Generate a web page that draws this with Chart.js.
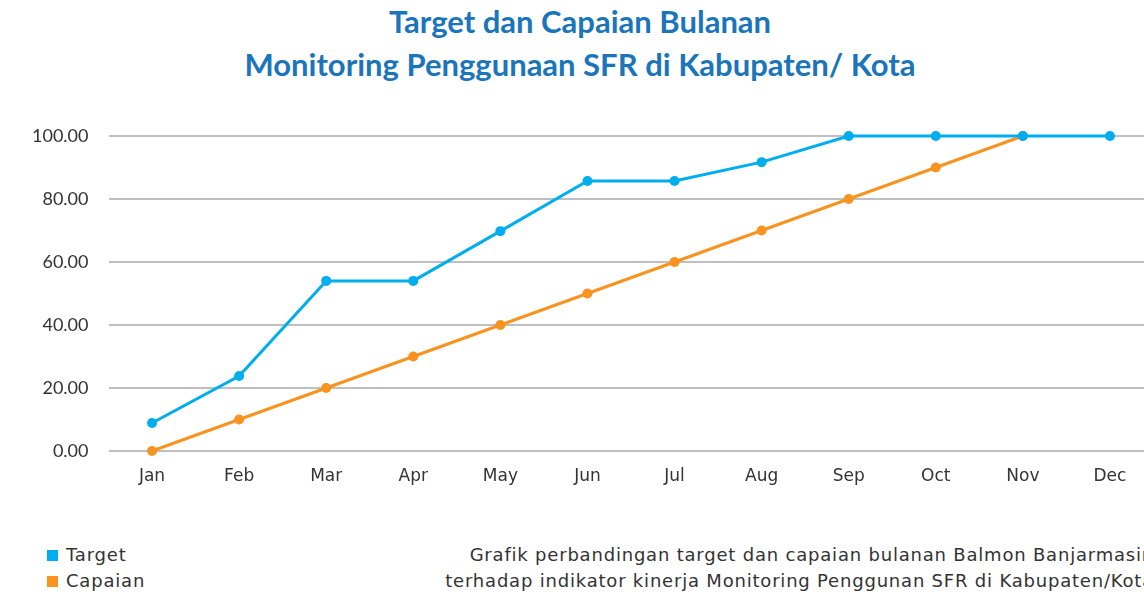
<!DOCTYPE html>
<html>
<head>
<meta charset="utf-8">
<script src="https://cdn.jsdelivr.net/npm/chart.js@4"></script>
<style>
html, body { margin: 0; padding: 0; background: #fff; overflow: hidden; width: 1144px; height: 595px; }
body { position: relative; font-family: "DejaVu Sans", sans-serif; }
#title { position: absolute; left: 0; width: 1160px; top: 0px; text-align: center; color: #1a75bb; font-family: "Lato", sans-serif; font-weight: bold; font-size: 31px; line-height: 43px; }
#wrap { position: absolute; left: 0; top: 0; width: 1160px; height: 500px; }
#legend { position: absolute; left: 47px; top: 542px; font-size: 18px; letter-spacing: 0.8px; color: #333; line-height: 26px; }
#legend span.box { display: inline-block; width: 11px; height: 11px; margin-right: 8px; }
#note { position: absolute; right: -10px; top: 542px; text-align: right; font-size: 18px; letter-spacing: 0.8px; color: #333; line-height: 26px; white-space: nowrap; }
</style>
</head>
<body>
<div id="title">Target dan Capaian Bulanan<br>Monitoring Penggunaan SFR di Kabupaten/ Kota</div>
<div id="wrap"><canvas id="lineChart"></canvas></div>
<div id="legend">
  <div><span class="box" style="background:#00aeef"></span>Target</div>
  <div><span class="box" style="background:#f7931e"></span>Capaian</div>
</div>
<div id="note">Grafik perbandingan target dan capaian bulanan Balmon Banjarmasin<br>terhadap indikator kinerja Monitoring Penggunan SFR di Kabupaten/Kota</div>
<script>
var bulan = ['Jan', 'Feb', 'Mar', 'Apr', 'May', 'Jun', 'Jul', 'Aug', 'Sep', 'Oct', 'Nov', 'Dec'];
var target = [8.9, 23.8, 54, 54, 69.8, 85.7, 85.7, 91.7, 100, 100, 100, 100];
var capaian = [0, 10, 20, 30, 40, 50, 60, 70, 80, 90, 100, null];
var yTicks = [0, 20, 40, 60, 80, 100];

function load_chart() {
    var ctx = document.getElementById('lineChart').getContext('2d');
    var lineChart = new Chart(ctx, {
        type: 'line',
        data: {
            labels: bulan,
            datasets: [{
                label: 'Capaian',
                data: capaian,
                borderColor: '#f7931e',
                backgroundColor: '#f7931e',
                borderWidth: 3,
                pointRadius: 5,
                pointBorderWidth: 0,
                clip: false,
                order: 2
            }, {
                label: 'Target',
                data: target,
                borderColor: '#00aeef',
                backgroundColor: '#00aeef',
                borderWidth: 3,
                pointRadius: 5,
                pointBorderWidth: 0,
                clip: false,
                order: 1
            }]
        },
        options: {
            responsive: true,
            maintainAspectRatio: false,
            animation: false,
            layout: { padding: { top: 136, right: 6.5, left: 0, bottom: 0 } },
            plugins: {
                legend: { display: false },
                tooltip: { enabled: false }
            },
            scales: {
                x: {
                    offset: true,
                    grid: { display: false },
                    border: { display: false },
                    ticks: { color: '#333', font: { family: 'DejaVu Sans', size: 17 }, padding: 7 },
                    afterFit: function(scale) { scale.height = 49; }
                },
                y: {
                    min: 0,
                    max: 100,
                    afterBuildTicks: function(scale) {
                        scale.ticks = yTicks.map(function(v) { return { value: v }; });
                    },
                    grid: { color: '#bfbfbf', lineWidth: 2, drawTicks: false },
                    border: { display: false },
                    ticks: {
                        color: '#333',
                        font: { family: 'Lato', size: 18 },
                        padding: 20,
                        callback: function(v) { return v.toFixed(2); }
                    },
                    afterFit: function(scale) { scale.width = 108.5; }
                }
            }
        }
    });
}
window.onload = function() {
    load_chart();
}
</script>
</body>
</html>
